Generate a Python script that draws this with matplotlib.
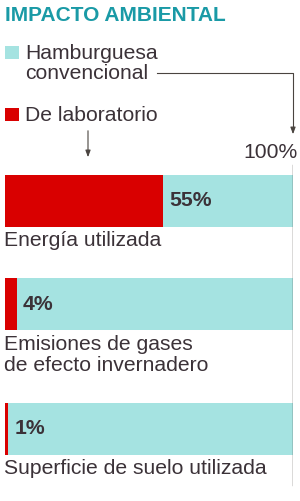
import matplotlib
matplotlib.use("Agg")
import matplotlib.pyplot as plt

# datos
categorias = ["Energía utilizada", "Emisiones de gases\nde efecto invernadero", "Superficie de suelo utilizada"]
laboratorio = [55, 4, 1]
convencional = [100, 100, 100]
etiquetas = ["55%", "4%", "1%"]

TEAL = "#a5e3e1"
ROJO = "#d90000"
TEXTO = "#3b3238"
TITULO = "#1a9aa6"

plt.rcParams["font.family"] = ["Liberation Sans", "DejaVu Sans"]

fig = plt.figure(figsize=(3.0, 5.01), dpi=100)
# eje de fondo en pixeles
bg = fig.add_axes([0, 0, 1, 1])
bg.set_xlim(0, 300)
bg.set_ylim(501, 0)
bg.axis("off")

# eje de barras: 0..100 -> pixeles 5..293
ax = fig.add_axes([5 / 300, 0, 288 / 300, 1])
ax.set_xlim(0, 100)
ax.set_ylim(501, 0)
ax.axis("off")

centros = [201, 304, 429]
alto = 52
ax.barh(centros, convencional, height=alto, color=TEAL, linewidth=0)
ax.barh(centros, laboratorio, height=alto, color=ROJO, linewidth=0)

fs = 15.2
for c, v, e in zip(centros, laboratorio, etiquetas):
    ax.annotate(e, (v, c), xytext=(4.5, 0), textcoords="offset points",
                ha="left", va="center", fontsize=fs, fontweight="bold", color=TEXTO)

# etiquetas de categoria
posiciones = [241, 355, 468]
for y, cat in zip(posiciones, categorias):
    bg.text(4, y, cat, fontsize=fs, color=TEXTO, va="center", ha="left", linespacing=1.12)

# linea de 100%
ax.plot([100, 100], [165, 485], color="#4a4440", lw=1.0)
bg.text(298, 152, "100%", fontsize=fs, color=TEXTO, va="center", ha="right")

# titulo
bg.text(5, 15, "IMPACTO AMBIENTAL", fontsize=15, fontweight="bold", color=TITULO, va="center", ha="left")

# leyenda
bg.add_patch(plt.Rectangle((5, 46), 14, 13, color=TEAL, lw=0))
bg.text(25, 53, "Hamburguesa", fontsize=fs, color=TEXTO, va="center", ha="left")
bg.text(25, 73, "convencional", fontsize=fs, color=TEXTO, va="center", ha="left")
bg.add_patch(plt.Rectangle((5, 108), 14, 13, color=ROJO, lw=0))
bg.text(25, 115, "De laboratorio", fontsize=fs, color=TEXTO, va="center", ha="left")

# flechas
bg.plot([157, 293, 293], [73, 73, 130], color="#4a4440", lw=0.8)
bg.annotate("", xy=(293, 137), xytext=(293, 128),
            arrowprops=dict(arrowstyle="-|>,head_length=0.4,head_width=0.15", color="#4a4440", lw=0.8))
bg.annotate("", xy=(88, 160), xytext=(88, 128),
            arrowprops=dict(arrowstyle="-|>,head_length=0.4,head_width=0.15", color="#4a4440", lw=0.8))

fig.savefig("out.png", dpi=100)
